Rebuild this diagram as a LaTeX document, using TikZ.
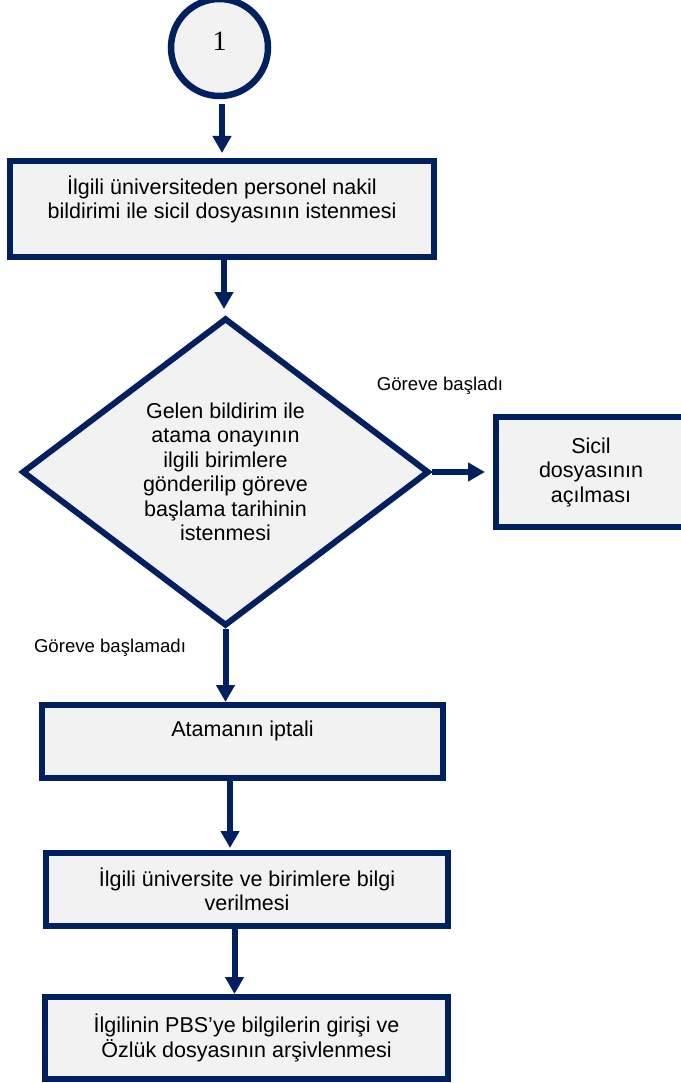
\documentclass[tikz,border=0pt]{standalone}
\usepackage{fontspec}
\setmainfont{Liberation Sans}
\newfontfamily\rakamfont{Liberation Serif}
\usetikzlibrary{shapes.geometric,arrows.meta}
\definecolor{lacivert}{RGB}{0,32,96}
\definecolor{acikgri}{RGB}{242,242,242}
\tikzset{
  kutu/.style={rectangle, draw=lacivert, fill=acikgri, line width=6pt,
    align=center, inner sep=0pt, font=\fontsize{21.5}{24.5}\selectfont},
  karar/.style={diamond, draw=lacivert, fill=acikgri, line width=6pt, aspect=1.32,
    align=center, inner sep=0pt, minimum width=407pt, minimum height=308pt,
    font=\fontsize{21.5}{24.5}\selectfont},
  baglanti/.style={circle, draw=lacivert, fill=acikgri, line width=6.5pt,
    minimum size=97pt, inner sep=0pt, font=\rakamfont\fontsize{28}{30}\selectfont},
  ok/.style={draw=lacivert, line width=6pt, -{Triangle[width=18pt,length=17pt]}},
  etiket/.style={inner sep=0pt, font=\fontsize{18.6}{22}\selectfont}
}
\begin{document}
\begin{tikzpicture}[x=1pt,y=-1pt]
        \useasboundingbox (0,0) rectangle (680,1083);
        % baglanti noktasi
        \node[baglanti, text depth=13pt] (c1) at (219.5,47.5) {1};
        % kutular
        \node[kutu, minimum width=424pt, minimum height=96pt, text depth=23.5pt] (b1) at (222,209)
            {İlgili üniversiteden personel nakil\\bildirimi ile sicil dosyasının istenmesi};
        \node[karar] (d1) at (225.5,472)
            {Gelen bildirim ile\\atama onayının\\ilgili birimlere\\gönderilip göreve\\başlama tarihinin\\istenmesi};
        \node[kutu, minimum width=190pt, minimum height=110pt] (s1) at (591,472)
            {Sicil\\dosyasının\\açılması};
        \node[kutu, minimum width=401pt, minimum height=73pt, text depth=25.5pt] (b3) at (242.5,741.5)
            {Atamanın iptali};
        \node[kutu, minimum width=402pt, minimum height=73pt] (b4) at (247,889.5)
            {İlgili üniversite ve birimlere bilgi\\verilmesi};
        \node[kutu, minimum width=403pt, minimum height=82pt] (b5) at (246.5,1038)
            {İlgilinin PBS’ye bilgilerin girişi ve\\Özlük dosyasının arşivlenmesi};
        % etiketler
        \node[etiket] (evet) at (440,386) {Göreve başladı};
        \node[etiket] (hayir) at (110,648) {Göreve başlamadı};
        % oklar
        \draw[ok, shorten <=5pt, shorten >=5pt] (b1.north |- c1.south) -- (b1.north);
        \draw[ok, shorten >=6pt] ([xshift=2pt]b1.south) -- ([xshift=2pt]b1.south |- d1.north);
        \draw[ok, shorten >=8pt] (d1.east) -- (s1.west);
        \draw[ok] (d1.south) -- (d1.south |- b3.north);
        \draw[ok, shorten >=2pt] ([xshift=-12.5pt]b3.south) -- ([xshift=-12.5pt]b3.south |- b4.north);
        \draw[ok] ([xshift=-12.5pt]b4.south) -- ([xshift=-12.5pt]b4.south |- b5.north);
\end{tikzpicture}
\end{document}
